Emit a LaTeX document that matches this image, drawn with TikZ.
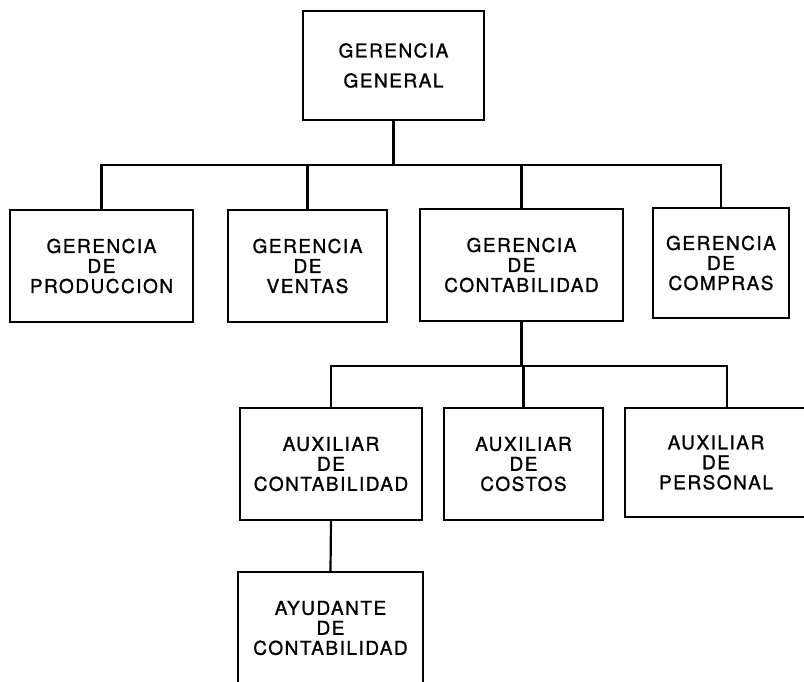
\documentclass[tikz,border=0pt]{standalone}
\usepackage{fontspec}
\setmainfont[LetterSpace=8,FakeBold=1.2]{TeX Gyre Heros}
\usepackage{tikz}

\begin{document}
\begin{tikzpicture}[x=1pt,y=-1pt,line width=2.2pt,
    unit/.style={draw,rectangle,inner sep=0pt,align=center,
        minimum height=112pt,font=\fontsize{19}{20}\selectfont},
    link/.style={line width=2.2pt}]
\useasboundingbox (0,0) rectangle (804,682);
\clip (0,0) rectangle (804,682);

% Level 1
\node[unit,minimum width=181pt,minimum height=109pt,
    font=\fontsize{19}{30}\selectfont] (gg) at (393.5,65.5) {GERENCIA\\GENERAL};

% Level 2
\node[unit,minimum width=183pt] (prod) at (101.5,266) {GERENCIA\\DE\\PRODUCCION};
\node[unit,minimum width=159pt] (vent) at (307.5,266) {GERENCIA\\DE\\VENTAS};
\node[unit,minimum width=203pt] (cont) at (521.5,265) {GERENCIA\\DE\\CONTABILIDAD};
\node[unit,minimum width=136pt,minimum height=110pt] (comp) at (721,263) {GERENCIA\\DE\\COMPRAS};

% Level 3
\node[unit,minimum width=182pt] (auxc) at (331,464) {AUXILIAR\\DE\\CONTABILIDAD};
\node[unit,minimum width=159pt] (cost) at (523.5,464) {AUXILIAR\\DE\\COSTOS};
\node[unit,minimum width=182pt,minimum height=109pt] (pers) at (716,462.5) {AUXILIAR\\DE\\PERSONAL};

% Level 4
\node[unit,minimum width=185pt] (ayud) at (330.5,628) {AYUDANTE\\DE\\CONTABILIDAD};

% Connectors
\draw[link] (gg.south) -- ++(0,44) coordinate (bus1);
\draw[link] (bus1) -| (prod.north);
\draw[link] (bus1) -| (vent.north);
\draw[link] (bus1) -| (cont.north);
\draw[link] (bus1) -| (comp.north);

\draw[link] (cont.south) -- ++(0,44) coordinate (bus2);
\draw[link] (bus2) -| (auxc.north);
\draw[link] (bus2) -| (cost.north);
\draw[link] (bus2) -| ([xshift=11pt]pers.north);

\draw[link] (auxc.south) -- (ayud.north);
\end{tikzpicture}
\end{document}
